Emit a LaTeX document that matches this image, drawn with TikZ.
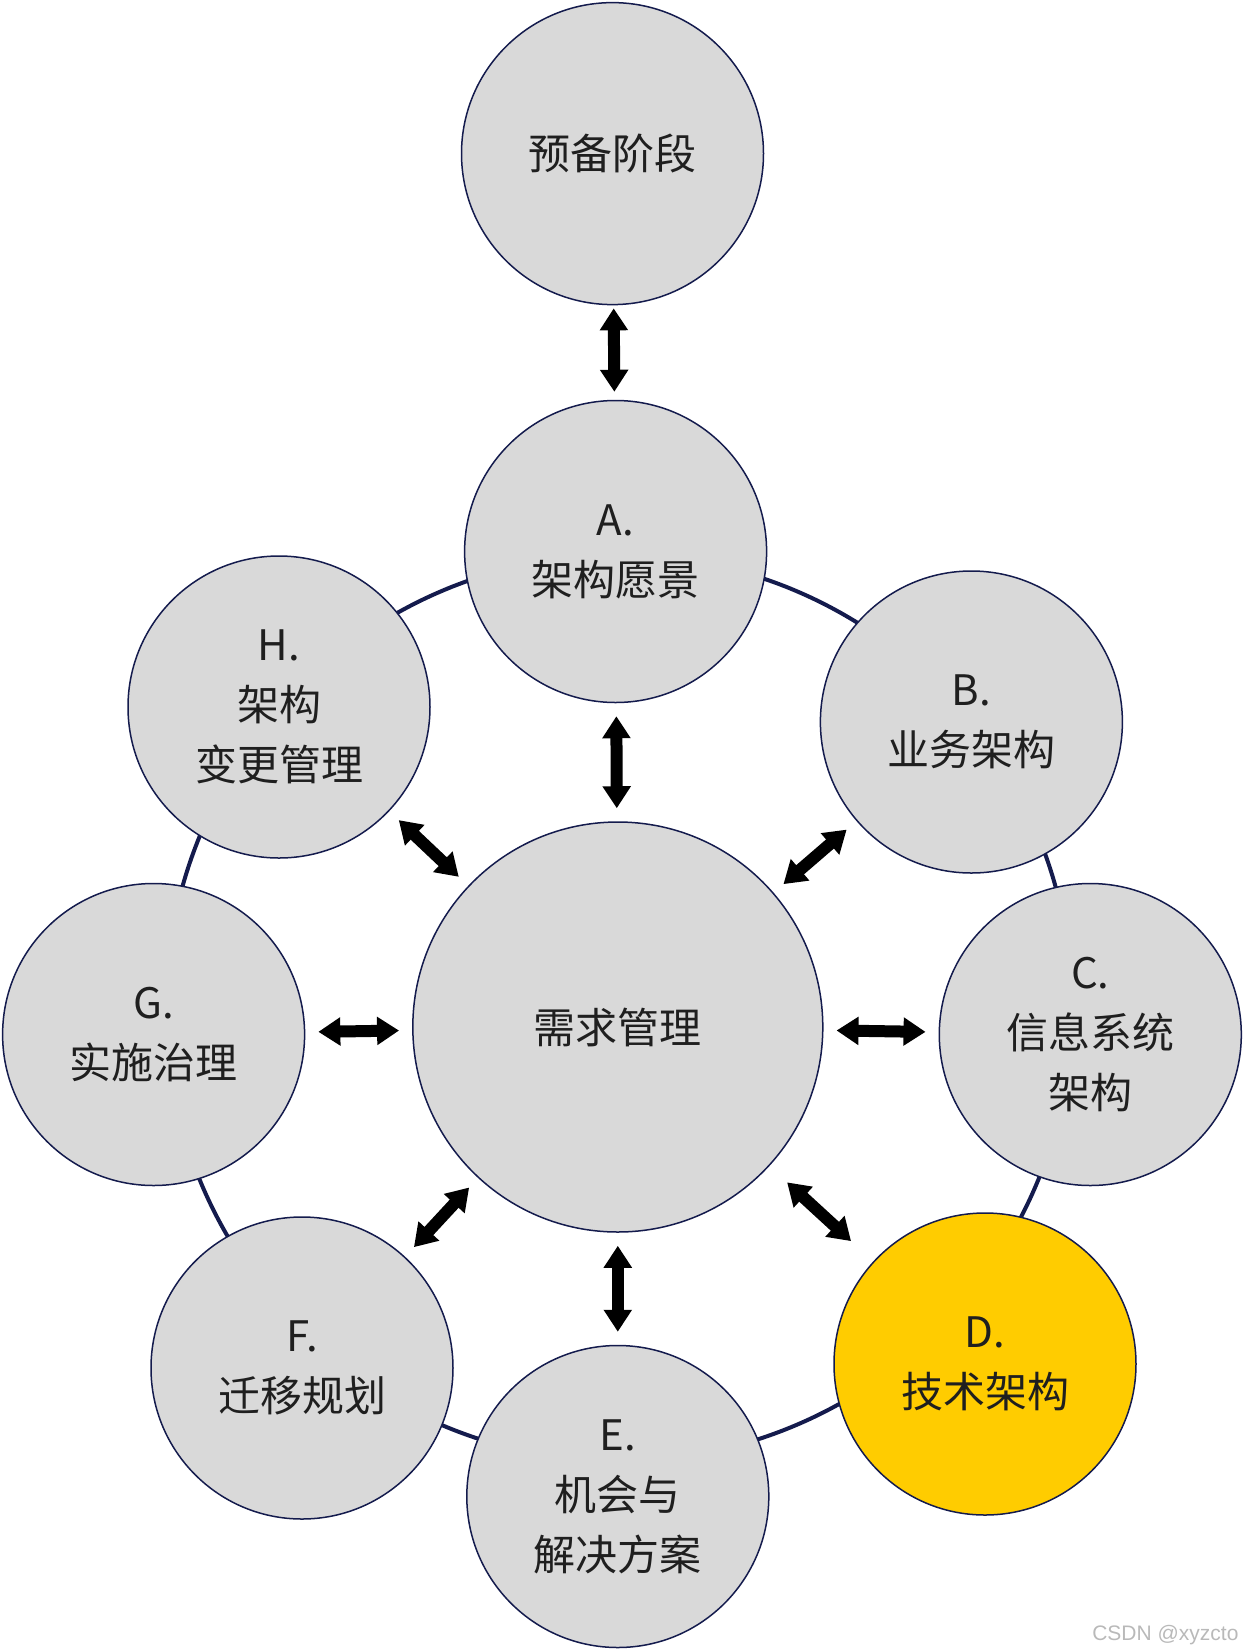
\documentclass[tikz,border=0pt]{standalone}
\usepackage{fontspec}
\setmainfont{Noto Sans CJK SC}
\newfontfamily\markfont{Liberation Sans}
\usetikzlibrary{arrows.meta, positioning}

\definecolor{ringblue}{HTML}{141B4D}
\definecolor{phasegrey}{HTML}{D9D9D9}
\definecolor{phasegold}{HTML}{FFCC00}
\definecolor{labeltext}{HTML}{1F1F1F}

\tikzset{
  phase/.style={circle, draw=ringblue, line width=1.5pt, fill=phasegrey,
    minimum size=302pt, inner sep=0pt, align=center, text=labeltext,
    font=\fontsize{42}{60}\selectfont},
  hub/.style={phase, minimum size=410pt},
  link/.style={{Triangle[width=27pt,length=22pt]}-{Triangle[width=27pt,length=22pt]},
    line width=12pt, shorten >=13pt, shorten <=13pt},
}

\begin{document}
\begin{tikzpicture}[x=1pt, y=-1pt]
    \useasboundingbox (0,0) rectangle (1246,1650);

    % Ring behind the phases
    \coordinate (ringc) at (619,1008);
    \draw[ringblue, line width=4pt] (ringc) circle[radius=453pt];

    % Phases
    \node[phase] (prep) at (612.5,153.6) {预备阶段};
    \node[phase] (A) at (615.6,551.5) {A.\\架构愿景};
    \node[phase] (B) at (971.4,722) {B.\\业务架构};
    \node[phase] (C) at (1090.3,1034.5) {C.\\信息系统\\架构};
    \node[phase, fill=phasegold] (D) at (985,1364) {D.\\技术架构};
    \node[phase] (E) at (617.8,1496.5) {E.\\机会与\\解决方案};
    \node[phase] (F) at (302,1368) {F.\\迁移规划};
    \node[phase] (G) at (153.6,1034.5) {G.\\实施治理};
    \node[phase] (H) at (279,707) {H.\\架构\\变更管理};

    % Requirements management in the middle
    \node[hub] (hub) at (617.8,1027) {需求管理};

    % Arrows
    \draw[link, shorten >=8pt, shorten <=3pt] (prep) -- (A);
    \foreach \p in {A,B,C,E,F,G,H} {
        \draw[link] (hub) -- (\p);
    }
    \draw[link, shorten >=30pt, shorten <=24pt] (hub) -- (D);

    % Watermark
    \node[anchor=base east, font=\markfont\fontsize{21}{25}\selectfont, text=gray!55]
        (mark) at (1242,1640) {CSDN @xyzcto};
\end{tikzpicture}
\end{document}
